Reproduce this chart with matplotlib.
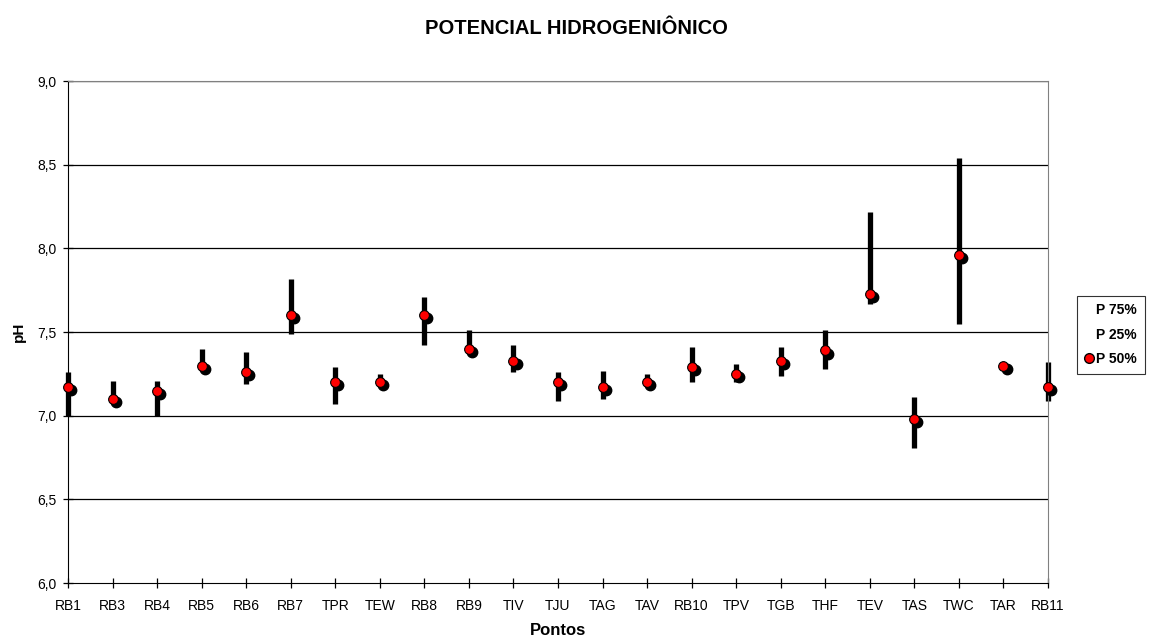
import numpy as np
import matplotlib.pyplot as plt
from matplotlib.lines import Line2D

plt.rcParams['font.family'] = ['Liberation Sans', 'DejaVu Sans']

pontos = ["RB1", "RB3", "RB4", "RB5", "RB6", "RB7", "TPR", "TEW", "RB8", "RB9", "TIV",
          "TJU", "TAG", "TAV", "RB10", "TPV", "TGB", "THF", "TEV", "TAS", "TWC", "TAR", "RB11"]
p75 = [7.26, 7.21, 7.21, 7.40, 7.38, 7.82, 7.29, 7.25, 7.71, 7.51, 7.42,
       7.26, 7.27, 7.25, 7.41, 7.31, 7.41, 7.51, 8.22, 7.11, 8.54, 7.30, 7.32]
p25 = [7.00, 7.09, 7.00, 7.29, 7.19, 7.49, 7.07, 7.18, 7.42, 7.38, 7.26,
       7.09, 7.10, 7.19, 7.20, 7.20, 7.24, 7.28, 7.67, 6.81, 7.55, 7.28, 7.09]
p50 = [7.17, 7.10, 7.15, 7.30, 7.26, 7.60, 7.20, 7.20, 7.60, 7.40, 7.33,
       7.20, 7.17, 7.20, 7.29, 7.25, 7.33, 7.39, 7.73, 6.98, 7.96, 7.30, 7.17]

x = np.arange(len(pontos))

fig = plt.figure(figsize=(11.52, 6.39), dpi=100)
ax = fig.add_axes([0.059, 0.0876, 0.8507, 0.7854])

# grid lines
for v in np.arange(6.5, 9.01, 0.5):
    ax.axhline(v, color='black', lw=0.9, zorder=1)

# high-low bars (P25 -> P75)
ax.vlines(x, p25, p75, color='black', lw=3.8, zorder=2, clip_on=False)

# median marker with a shadow
ax.plot(x + 0.07, np.array(p50) - 0.018, 'o', color='black', ms=7.5, zorder=3, clip_on=False)
ax.plot(x, p50, 'o', mfc='red', mec='black', mew=0.8, ms=7, zorder=4, clip_on=False)

ax.set_xlim(0, len(pontos) - 1)
ax.set_ylim(6.0, 9.0)
ax.set_xticks(x)
ax.set_xticklabels(pontos)
ax.set_yticks(np.arange(6.0, 9.01, 0.5))
ax.set_yticklabels([f"{v:.1f}".replace('.', ',') for v in np.arange(6.0, 9.01, 0.5)])
ax.tick_params(direction='inout', length=7, labelsize=10, width=0.9, color='black')
ax.tick_params(axis='x', pad=8)
ax.tick_params(axis='y', pad=5)

ax.spines['top'].set_color('#808080')
ax.spines['right'].set_color('#808080')
ax.spines['left'].set_color('black')
ax.spines['bottom'].set_color('black')

ax.set_xlabel("Pontos", fontsize=12, fontweight='bold', labelpad=7)
ax.set_ylabel("pH", fontsize=11, fontweight='bold', labelpad=8)
fig.text(0.5, 0.956, "POTENCIAL HIDROGENIÔNICO", fontsize=14.5, fontweight='bold',
         ha='center', va='center')

handles = [Line2D([], [], ls='none'),
           Line2D([], [], ls='none'),
           Line2D([], [], ls='none', marker='o', mfc='red', mec='black', ms=7)]
leg = ax.legend(handles, ["P 75%", "P 25%", "P 50%"], loc='center left',
                bbox_to_anchor=(1.03, 0.495), frameon=True, fancybox=False,
                prop={'weight': 'bold', 'size': 10}, handlelength=0.6,
                handletextpad=0.2, borderpad=0.55, labelspacing=0.75,
                borderaxespad=0)
leg.get_frame().set_edgecolor('black')
leg.get_frame().set_linewidth(0.8)

fig.savefig("out.png", dpi=100)
